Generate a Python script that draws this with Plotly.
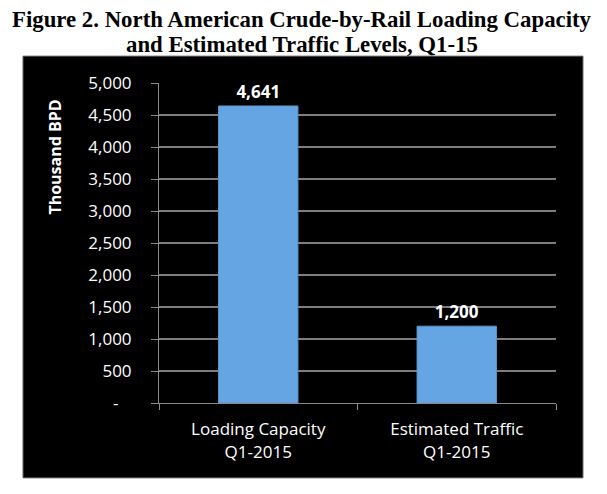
"""
Crude-by-rail loading capacity vs estimated traffic, Q1-15
"""

import plotly.graph_objects as go

# Chart data
categories = ['Loading Capacity<br>Q1-2015', 'Estimated Traffic<br>Q1-2015']
values = [4641, 1200]
value_labels = ['4,641', '1,200']

y_tickvals = [0, 500, 1000, 1500, 2000, 2500, 3000, 3500, 4000, 4500, 5000]
y_ticktext = ['-\u00a0\u00a0\u00a0', '500', '1,000', '1,500', '2,000', '2,500',
              '3,000', '3,500', '4,000', '4,500', '5,000']

title_lines = ['Figure 2. North American Crude-by-Rail Loading Capacity',
               'and Estimated Traffic Levels, Q1-15']
y_title = 'Thousand BPD'

fig = go.Figure()

fig.add_trace(go.Bar(
    x=categories,
    y=values,
    text=value_labels,
    textposition='outside',
    cliponaxis=False,
    textfont=dict(family='Open Sans', size=17, color='white', weight='bold'),
    marker=dict(
        color='#66a5e3',
        line=dict(color='#5b95cf', width=1),
    ),
    width=0.4,
    showlegend=False,
))


def update_fig_layout(fig: go.Figure) -> go.Figure:
    """Black Excel-style chart box sitting under a bold serif title"""
    # NOTE: the page body has an 8px margin, so the figure is 8px smaller
    # than the window and everything is placed 8px up/left of the reference
    title_font = dict(family='Liberation Serif', size=22.8, color='black', weight='bold')
    fig.update_layout(
        width=599,
        height=486,
        # plot area: x 151..548 px, y 75..395 px (figure coords)
        margin=dict(l=151, r=51, t=75, b=91),
        paper_bgcolor='white',
        plot_bgcolor='#525252',
        font=dict(family='Open Sans', color='white'),
        xaxis=dict(
            type='category',
            showgrid=False,
            showline=True,
            linecolor='#8a8a8a',
            linewidth=1,
            ticks='outside',
            tickson='boundaries',
            ticklen=6,
            tickcolor='#8a8a8a',
            tickfont=dict(size=17, color='white'),
            ticklabelstandoff=11,
        ),
        yaxis=dict(
            range=[0, 5000],
            tickvals=y_tickvals,
            ticktext=y_ticktext,
            showgrid=True,
            gridcolor='#7d7d7d',
            gridwidth=1.5,
            zeroline=False,
            showline=True,
            linecolor='#8a8a8a',
            linewidth=1,
            ticks='outside',
            ticklen=7,
            tickcolor='#8a8a8a',
            tickfont=dict(size=17, color='white'),
            ticklabelstandoff=16,
        ),
        shapes=[
            # black chart box behind everything
            dict(
                type='rect', xref='paper', yref='paper',
                x0=-0.3426, x1=1.068, y0=-0.234, y1=1.084,
                fillcolor='black',
                line=dict(color='#6a6a6a', width=1),
                layer='below',
            ),
        ],
        annotations=[
            dict(
                text=title_lines[0],
                xref='paper', yref='paper',
                x=0.36, y=1.197,
                xanchor='center', yanchor='middle',
                showarrow=False,
                font=title_font,
            ),
            dict(
                text=title_lines[1],
                xref='paper', yref='paper',
                x=0.36, y=1.119,
                xanchor='center', yanchor='middle',
                showarrow=False,
                font=title_font,
            ),
            dict(
                text=y_title,
                xref='paper', yref='paper',
                x=-0.262, y=0.77,
                xanchor='center', yanchor='middle',
                textangle=-90,
                showarrow=False,
                font=dict(family='Open Sans', size=16, color='white', weight='bold'),
            ),
        ],
    )
    return fig


fig = update_fig_layout(fig)

fig.write_html('out.html')
